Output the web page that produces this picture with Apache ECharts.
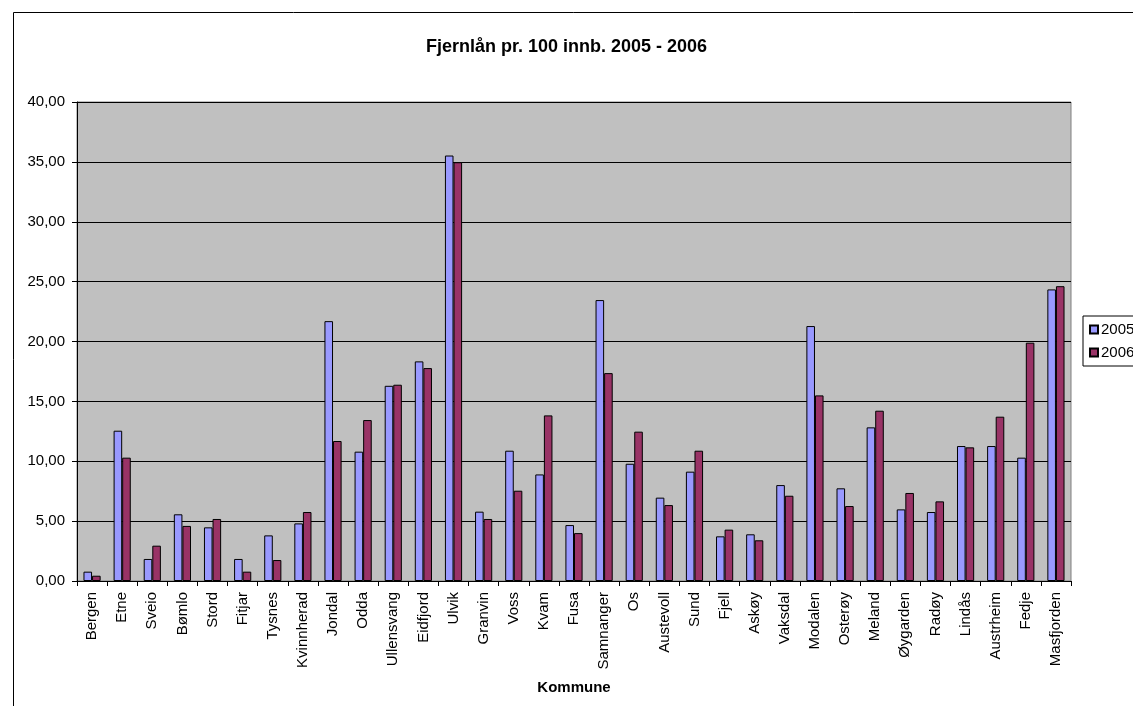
<!DOCTYPE html>
<html>
<head>
<meta charset="utf-8">
<script src="https://cdn.jsdelivr.net/npm/echarts@6/dist/echarts.min.js"></script>
<style>
html,body{margin:0;padding:0;background:#fff;}
#chart{width:1133px;height:706px;}
</style>
</head>
<body>
<div id="chart"></div>
<script>
const categories = ["Bergen","Etne","Sveio","Bømlo","Stord","Fitjar","Tysnes","Kvinnherad","Jondal","Odda","Ullensvang","Eidfjord","Ulvik","Granvin","Voss","Kvam","Fusa","Samnanger","Os","Austevoll","Sund","Fjell","Askøy","Vaksdal","Modalen","Osterøy","Meland","Øygarden","Radøy","Lindås","Austrheim","Fedje","Masfjorden"];
const values2005 = [0.78,12.55,1.84,5.57,4.48,1.84,3.81,4.81,21.70,10.80,16.30,18.34,35.53,5.79,10.88,8.90,4.67,23.46,9.79,6.96,9.13,3.73,3.90,8.01,21.29,7.74,12.83,5.98,5.76,11.27,11.27,10.30,24.35];
const values2006 = [0.44,10.30,2.95,4.60,5.18,0.78,1.75,5.76,11.69,13.44,16.39,17.78,34.97,5.18,7.54,13.83,4.00,17.36,12.47,6.34,10.88,4.29,3.40,7.12,15.50,6.26,14.22,7.35,6.65,11.16,13.72,19.90,24.62];
const seriesNames = ["2005","2006"];
const titleText = "Fjernlån pr. 100 innb. 2005 - 2006";
const xAxisName = "Kommune";

const chart = echarts.init(document.getElementById('chart'), null, {renderer:'canvas'});
const font = 'Arial, "Liberation Sans", sans-serif';
chart.setOption({
  animation:false,
  backgroundColor:'#fff',
  textStyle:{fontFamily:font},
  graphic:[{type:'rect', left:11, top:10, shape:{width:1200, height:800}, style:{fill:'none', stroke:'#000', lineWidth:1}, silent:true, z:-1}],
  title:{text:titleText, left:'center', top:33, textStyle:{fontFamily:font, fontSize:18, fontWeight:'bold', color:'#000'}},
  legend:{
    orient:'vertical', left:1083, top:316, data:seriesNames,
    borderColor:'#000', borderWidth:1, padding:[6,6,6,6],
    itemWidth:8, itemHeight:8, itemGap:8,
    textStyle:{fontFamily:font, fontSize:15, color:'#000', padding:[0,0,0,-2]},
    icon:'rect'
  },
  grid:{left:77, right:62, top:102, bottom:125, show:true, backgroundColor:'#C0C0C0', borderColor:'#808080', borderWidth:1},
  xAxis:{
    type:'category', data:categories,
    name:xAxisName, nameLocation:'middle', nameGap:99,
    nameTextStyle:{fontFamily:font, fontSize:15, fontWeight:'bold', color:'#000'},
    axisLine:{lineStyle:{color:'#000'}},
    axisTick:{show:true, length:5, lineStyle:{color:'#000'}},
    axisLabel:{rotate:90, fontFamily:font, fontSize:15, color:'#000', margin:11, interval:0}
  },
  yAxis:{
    type:'value', min:0, max:40, interval:5,
    axisLine:{show:true, lineStyle:{color:'#000'}},
    axisTick:{show:true, length:5, lineStyle:{color:'#000'}},
    splitLine:{show:true, lineStyle:{color:'#000', width:1}},
    axisLabel:{fontFamily:font, fontSize:15, color:'#000', margin:12, formatter:v=>v.toFixed(2).replace('.',',')}
  },
  series:[
    {name:seriesNames[0], type:'bar', data:values2005, barGap:'0%', barCategoryGap:'43%',
     itemStyle:{color:'#9999FF', borderColor:'#000', borderWidth:1}},
    {name:seriesNames[1], type:'bar', data:values2006, barGap:'0%', barCategoryGap:'43%',
     itemStyle:{color:'#993366', borderColor:'#000', borderWidth:1}}
  ]
});
</script>
</body>
</html>
